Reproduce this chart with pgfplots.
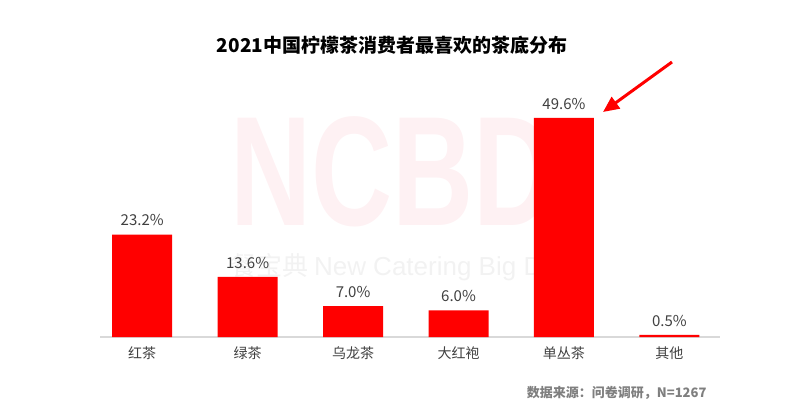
\documentclass[border=0pt]{standalone}
\usepackage{pgfplots}
\pgfplotsset{compat=1.18}
\usepackage{fontspec}
\setmainfont{Noto Sans CJK SC}
\newfontfamily\wmfont{Liberation Sans}
\usetikzlibrary{arrows.meta}
\definecolor{barred}{HTML}{FF0000}
\definecolor{txtgray}{HTML}{404040}
\definecolor{srcgray}{HTML}{7F7F7F}
\definecolor{axgray}{HTML}{D9D9D9}
\definecolor{wmpink}{HTML}{FEF1F3}
\definecolor{wmgray}{HTML}{F2F2F2}

\begin{document}
\begin{tikzpicture}[x=1pt,y=1pt]
\useasboundingbox (0,0) rectangle (792,413);
% watermark
\node[anchor=south west, inner sep=0, text=wmpink, xscale=0.72,
  font=\wmfont\bfseries\fontsize{156}{156}\selectfont] at (230,186) {NCBD};
\node[anchor=west, inner sep=0, text=wmgray,
  font=\fontsize{26}{26}\selectfont] at (230,146) {餐宝典\ \wmfont New Catering Big Data};

\begin{axis}[
  at={(100pt,76pt)}, anchor=south west,
  scale only axis, width=620pt, height=243pt,
  ymin=0, ymax=55, xmin=-0.4, xmax=5.48,
  axis y line=none, axis x line*=bottom,
  x axis line style={axgray, line width=1.2pt, -},
  xtick={0,...,5}, major tick length=0pt,
  xticklabels={红茶,绿茶,乌龙茶,大红袍,单丛茶,其他},
  xticklabel style={font=\fontsize{14}{14}\selectfont, text=txtgray, yshift=-6pt},
  /pgf/number format/assume math mode=true,
  ybar, bar width=60pt,
  nodes near coords={\pgfmathprintnumber[fixed,fixed zerofill,precision=1]{\pgfplotspointmeta}\%},
  every node near coord/.append style={font=\fontsize{15}{15}\selectfont, text=txtgray, yshift=5pt},
  clip=false,
]
\addplot[fill=barred, draw=none] coordinates {
  (0,23.2) (1,13.6) (2,7.0) (3,6.0) (4,49.6) (5,0.5)
};
\end{axis}

\node[font=\bfseries\fontsize{19}{19}\selectfont, text=black] at (392,368)
  {2021中国柠檬茶消费者最喜欢的茶底分布};
\node[anchor=east, font=\bfseries\fontsize{13}{13}\selectfont, text=srcgray] at (710,20)
  {数据来源：问卷调研，N=1267};
\draw[barred, line width=3pt, -{Triangle[length=16pt,width=14pt]}] (672,351) -- (603,301);
\end{tikzpicture}
\end{document}
